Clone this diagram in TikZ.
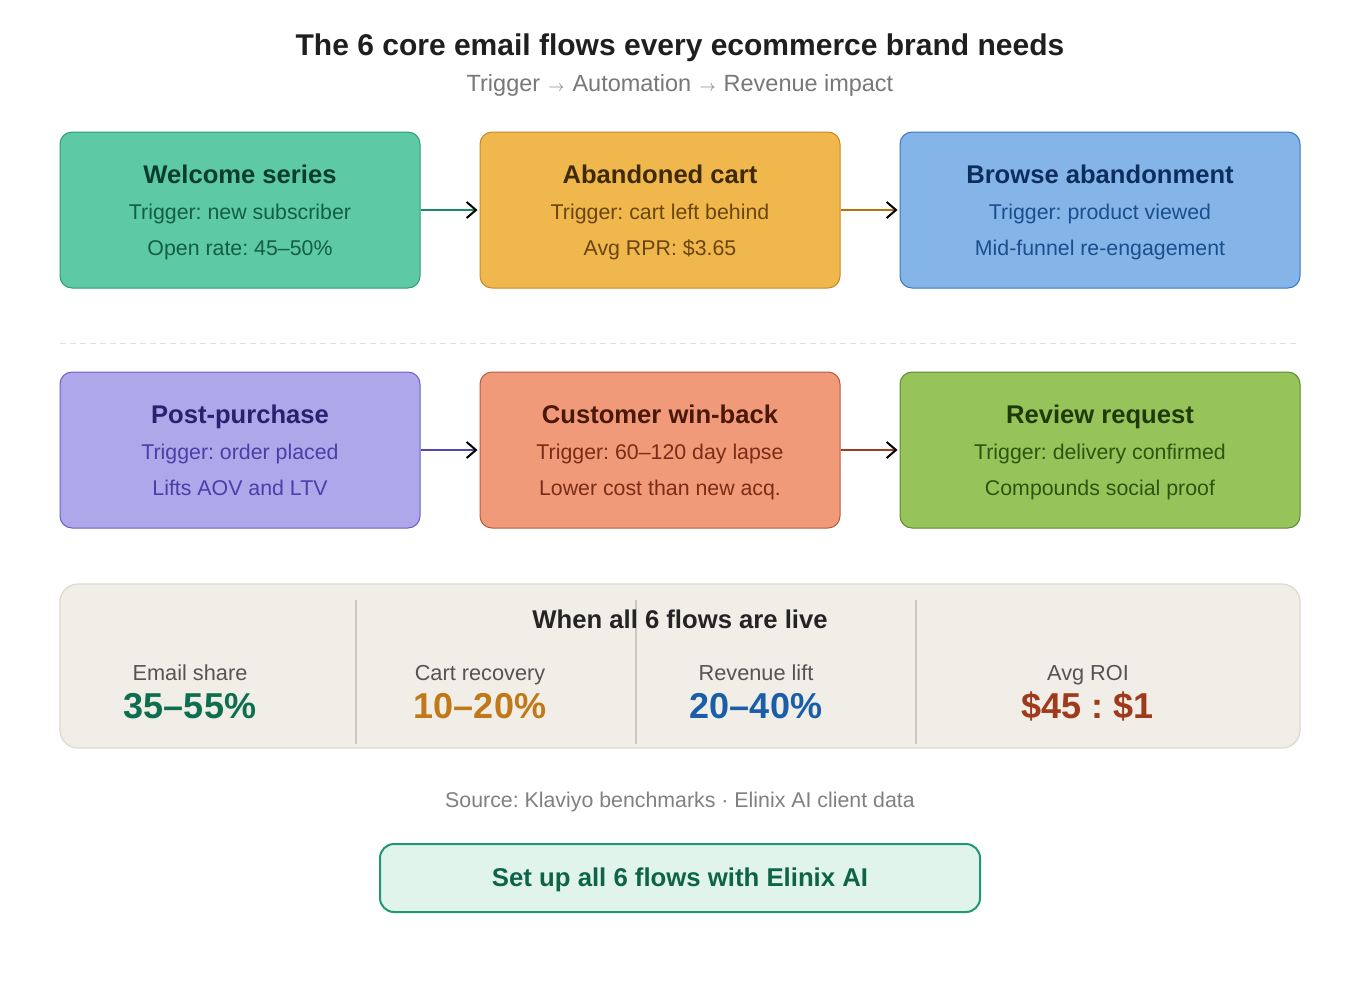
\documentclass[tikz,border=0pt]{standalone}
\usepackage{fontspec}
\setmainfont{Liberation Sans}
\usetikzlibrary{arrows.meta}
\frenchspacing
\definecolor{wfill}{HTML}{5DC9A5}\definecolor{wline}{HTML}{2E9E78}\definecolor{wtitle}{HTML}{0B3D2E}\definecolor{wtext}{HTML}{135E45}\definecolor{warrow}{HTML}{1A8A63}
\definecolor{afill}{HTML}{F0B84C}\definecolor{aline}{HTML}{C68A26}\definecolor{atitle}{HTML}{3F2A06}\definecolor{atext}{HTML}{6B4510}\definecolor{aarrow}{HTML}{B8700F}
\definecolor{bfill}{HTML}{85B5E8}\definecolor{bline}{HTML}{3A78C0}\definecolor{btitle}{HTML}{0C2E5C}\definecolor{btext}{HTML}{1B4E8C}
\definecolor{pfill}{HTML}{AEA7E9}\definecolor{pline}{HTML}{6B61C8}\definecolor{ptitle}{HTML}{2A2070}\definecolor{ptext}{HTML}{4A3FA8}\definecolor{parrow}{HTML}{4F45B5}
\definecolor{cfill}{HTML}{F09A7A}\definecolor{cline}{HTML}{B85B3E}\definecolor{ctitle}{HTML}{4A1808}\definecolor{ctext}{HTML}{7A2C14}\definecolor{carrow}{HTML}{9E3A1E}
\definecolor{rfill}{HTML}{97C45A}\definecolor{rline}{HTML}{5E8A30}\definecolor{rtitle}{HTML}{1F3A08}\definecolor{rtext}{HTML}{2E5410}
\definecolor{statfill}{HTML}{F1EEE8}\definecolor{statline}{HTML}{DDD9D2}\definecolor{divcol}{HTML}{CCC8C0}
\definecolor{vgreen}{HTML}{0E6E50}\definecolor{vorange}{HTML}{C07818}\definecolor{vblue}{HTML}{1A5EA8}\definecolor{vred}{HTML}{A03A1C}
\definecolor{btnfill}{HTML}{E0F4EC}\definecolor{btnline}{HTML}{1E9A6E}\definecolor{btntext}{HTML}{0E6448}
\newcommand\subarrow{\hspace{0.35em}{\fontsize{13pt}{14pt}\selectfont$\rightarrow$}\hspace{0.35em}}
\begin{document}
\begin{tikzpicture}[x=0.75pt,y=-0.75pt,
  flowbox/.style={draw, line width=0.75pt, rounded corners=9pt, inner sep=0pt, minimum height=117pt},
  boxtitle/.style={anchor=base, font=\bfseries\fontsize{19.2pt}{21pt}\selectfont},
  boxline/.style={anchor=base, font=\fontsize{16pt}{18pt}\selectfont},
  flowarrow/.style={line width=1.5pt, -{Straight Barb[black, length=7pt, width=12pt, line width=1.5pt]}, shorten >=1.5pt},
  statlabel/.style={anchor=base, text=black!67, font=\fontsize{16.3pt}{18pt}\selectfont},
  statvalue/.style={anchor=base, font=\bfseries\fontsize{27pt}{30pt}\selectfont},
  divider/.style={draw=divcol, line width=1.5pt}]
\useasboundingbox (0,0) rectangle (1360,1000);
\fill[white] (0,0) rectangle (1360,1000);
% heading
\node[anchor=base, text=black!88, font=\bfseries\fontsize{22.5pt}{25pt}\selectfont] (title) at (680,55.5) {The 6 core email flows every ecommerce brand needs};
\node[anchor=base, text=black!53, font=\fontsize{17.6pt}{20pt}\selectfont] (subtitle) at (680,91.5) {Trigger\subarrow Automation\subarrow Revenue impact};
% row 1
\node[flowbox, fill=wfill, draw=wline, minimum width=270pt] (welcome) at (240,210) {};
\node[flowbox, fill=afill, draw=aline, minimum width=270pt] (cart) at (660,210) {};
\node[flowbox, fill=bfill, draw=bline, minimum width=300pt] (browse) at (1100,210) {};
\node[boxtitle, text=wtitle] (welcomeT) at (240,183.5) {Welcome series};
\node[boxline, text=wtext] (welcomeA) at (240,219.5) {Trigger: new subscriber};
\node[boxline, text=wtext] (welcomeB) at (240,255.5) {Open rate: 45–50\%};
\node[boxtitle, text=atitle] (cartT) at (660,183.5) {Abandoned cart};
\node[boxline, text=atext] (cartA) at (660,219.5) {Trigger: cart left behind};
\node[boxline, text=atext] (cartB) at (660,255.5) {Avg RPR: \$3.65};
\node[boxtitle, text=btitle] (browseT) at (1100,183.5) {Browse abandonment};
\node[boxline, text=btext] (browseA) at (1100,219.5) {Trigger: product viewed};
\node[boxline, text=btext] (browseB) at (1100,255.5) {Mid-funnel re-engagement};
\draw[flowarrow, warrow] (welcome.east) -- (cart.west);
\draw[flowarrow, aarrow] (cart.east) -- (browse.west);
% separator
\draw[black!12, line width=0.75pt, dash pattern=on 4.5pt off 3pt] (60,343) -- (1300,343);
% row 2
\node[flowbox, fill=pfill, draw=pline, minimum width=270pt] (post) at (240,450) {};
\node[flowbox, fill=cfill, draw=cline, minimum width=270pt] (winback) at (660,450) {};
\node[flowbox, fill=rfill, draw=rline, minimum width=300pt] (review) at (1100,450) {};
\node[boxtitle, text=ptitle] (postT) at (240,423.5) {Post-purchase};
\node[boxline, text=ptext] (postA) at (240,459.5) {Trigger: order placed};
\node[boxline, text=ptext] (postB) at (240,495.5) {Lifts AOV and LTV};
\node[boxtitle, text=ctitle] (winbackT) at (660,423.5) {Customer win-back};
\node[boxline, text=ctext] (winbackA) at (660,459.5) {Trigger: 60–120 day lapse};
\node[boxline, text=ctext] (winbackB) at (660,495.5) {Lower cost than new acq.};
\node[boxtitle, text=rtitle] (reviewT) at (1100,423.5) {Review request};
\node[boxline, text=rtext] (reviewA) at (1100,459.5) {Trigger: delivery confirmed};
\node[boxline, text=rtext] (reviewB) at (1100,495.5) {Compounds social proof};
\draw[flowarrow, parrow] (post.east) -- (winback.west);
\draw[flowarrow, carrow] (winback.east) -- (review.west);
% stats panel
\node[draw=statline, fill=statfill, line width=0.9pt, rounded corners=13.5pt, inner sep=0pt, minimum width=930pt, minimum height=123pt] (stats) at (680,666) {};
\draw[divider] (356,600) -- (356,744);
\draw[divider] (636,600) -- (636,744);
\draw[divider] (916,600) -- (916,744);
\node[anchor=base, text=black!86, font=\bfseries\fontsize{19.25pt}{21pt}\selectfont] (statsT) at (680,628) {When all 6 flows are live};
\node[statlabel] (l1) at (190,680) {Email share};
\node[statvalue, text=vgreen] (v1) at (190,718) {35–55\%};
\node[statlabel] (l2) at (480,680) {Cart recovery};
\node[statvalue, text=vorange] (v2) at (480,718) {10–20\%};
\node[statlabel] (l3) at (756,680) {Revenue lift};
\node[statvalue, text=vblue] (v3) at (756,718) {20–40\%};
\node[statlabel] (l4) at (1088,680) {Avg ROI};
\node[statvalue, text=vred] (v4) at (1088,718) {\$45 : \$1};
% source
\node[anchor=base, text=black!50, font=\fontsize{16pt}{18pt}\selectfont] (source) at (680,807) {Source: Klaviyo benchmarks · Elinix AI client data};
% button
\node[draw=btnline, fill=btnfill, line width=1.5pt, rounded corners=10.5pt, inner sep=0pt, minimum width=450pt, minimum height=51pt] (button) at (680,878) {};
\node[anchor=base, text=btntext, font=\bfseries\fontsize{19.3pt}{21pt}\selectfont] (buttonT) at (680,886) {Set up all 6 flows with Elinix AI};
\end{tikzpicture}
\end{document}
